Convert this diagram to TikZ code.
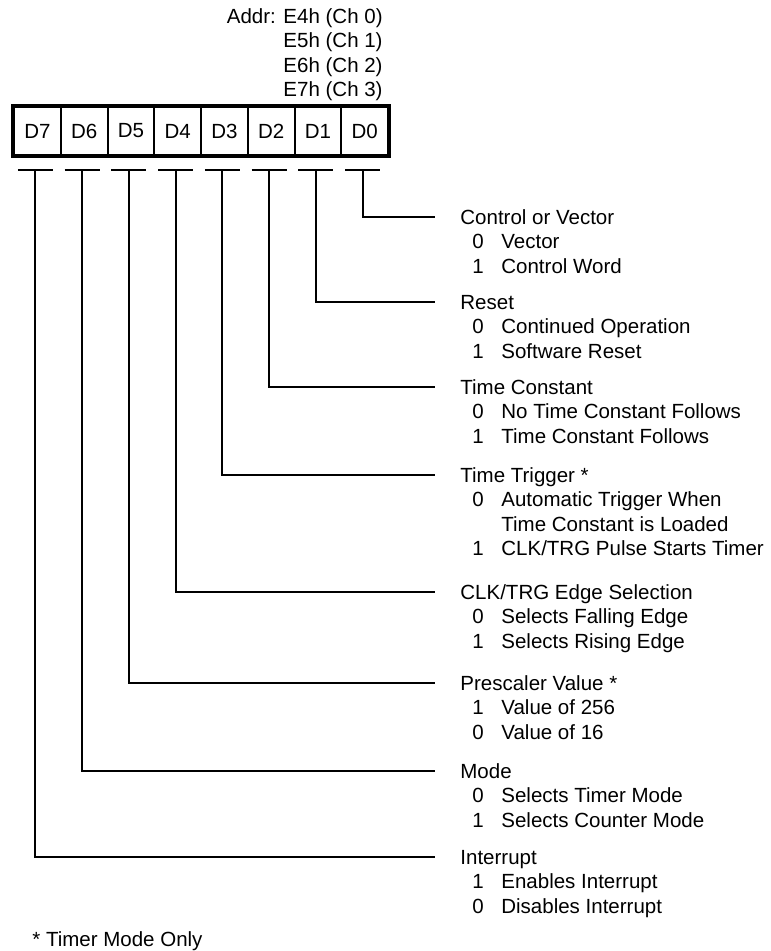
\documentclass[tikz,border=0pt]{standalone}
\usepackage{fontspec}
\setmainfont{Liberation Sans}
\usetikzlibrary{positioning}

% mục chọn: chữ số rồi mô tả
\newcommand{\opt}[2]{\hspace*{6pt}\makebox[14.5pt][l]{#1}#2}

\begin{document}
\begin{tikzpicture}[x=0.5pt, y=-0.5pt,
    cell/.style={draw, line width=1pt, minimum width=23.375pt, minimum height=24pt,
        inner sep=0pt, font=\fontsize{10.25}{12.2}\selectfont},
    field/.style={anchor=base west, inner sep=0pt, font=\fontsize{10.25}{12.2}\selectfont},
    wire/.style={line width=1pt}]
    \useasboundingbox (0,0) rectangle (770,951);

    % Địa chỉ
    \node[field, anchor=base east] (addr) at (383,23.5) {\begin{tabular}[t]{@{}r@{}}
        Addr: E4h (Ch 0)\\ E5h (Ch 1)\\ E6h (Ch 2)\\ E7h (Ch 3)\end{tabular}};

    % Các ô bit
    \foreach \i [count=\k from 0] in {7,...,0}
        \node[cell] (d\i) at ({37.375+46.75*\k},131) {D\i};
    \draw[line width=2pt] (d7.north west) rectangle (d0.south east);

    % Chân chữ T dưới mỗi bit
    \foreach \i in {0,...,7} {
        \coordinate (t\i) at ([xshift=-1pt, yshift=-7pt]d\i.south);
        \draw[wire] ([xshift=-8.75pt]t\i) -- ([xshift=8.75pt]t\i);
    }

    % Đường nối tới phần mô tả
    \foreach \i/\y in {0/217, 1/302, 2/387, 3/475, 4/592, 5/683, 6/771, 7/857} {
        \coordinate (e\i) at (435,\y);
        \draw[wire] (t\i) |- (e\i);
    }

    % Mô tả từng bit
    \node[field] (f0) at ([xshift=12.5pt, yshift=-3.7pt]e0) {\begin{tabular}[t]{@{}l@{}}
        Control or Vector\\ \opt{0}{Vector}\\ \opt{1}{Control Word}\end{tabular}};
    \node[field] (f1) at ([xshift=12.5pt, yshift=-3.7pt]e1) {\begin{tabular}[t]{@{}l@{}}
        Reset\\ \opt{0}{Continued Operation}\\ \opt{1}{Software Reset}\end{tabular}};
    \node[field] (f2) at ([xshift=12.5pt, yshift=-3.7pt]e2) {\begin{tabular}[t]{@{}l@{}}
        Time Constant\\ \opt{0}{No Time Constant Follows}\\ \opt{1}{Time Constant Follows}\end{tabular}};
    \node[field] (f3) at ([xshift=12.5pt, yshift=-3.7pt]e3) {\begin{tabular}[t]{@{}l@{}}
        Time Trigger *\\ \opt{0}{Automatic Trigger When}\\ \opt{}{Time Constant is Loaded}\\
        \opt{1}{CLK/TRG Pulse Starts Timer}\end{tabular}};
    \node[field] (f4) at ([xshift=12.5pt, yshift=-3.7pt]e4) {\begin{tabular}[t]{@{}l@{}}
        CLK/TRG Edge Selection\\ \opt{0}{Selects Falling Edge}\\ \opt{1}{Selects Rising Edge}\end{tabular}};
    \node[field] (f5) at ([xshift=12.5pt, yshift=-3.7pt]e5) {\begin{tabular}[t]{@{}l@{}}
        Prescaler Value *\\ \opt{1}{Value of 256}\\ \opt{0}{Value of 16}\end{tabular}};
    \node[field] (f6) at ([xshift=12.5pt, yshift=-3.7pt]e6) {\begin{tabular}[t]{@{}l@{}}
        Mode\\ \opt{0}{Selects Timer Mode}\\ \opt{1}{Selects Counter Mode}\end{tabular}};
    \node[field] (f7) at ([xshift=12.5pt, yshift=-3.7pt]e7) {\begin{tabular}[t]{@{}l@{}}
        Interrupt\\ \opt{1}{Enables Interrupt}\\ \opt{0}{Disables Interrupt}\end{tabular}};

    % Chú thích
    \node[field] (note) at (32,946) {* Timer Mode Only};

\end{tikzpicture}
\end{document}
